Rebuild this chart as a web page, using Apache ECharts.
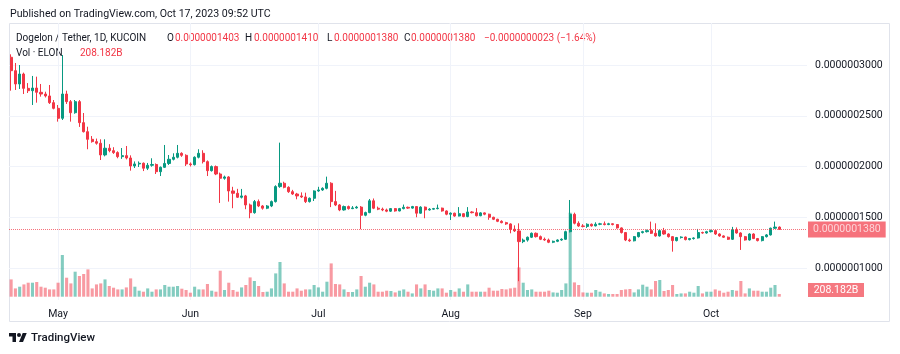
<!DOCTYPE html>
<html>
<head>
<meta charset="utf-8">
<script src="https://cdn.jsdelivr.net/npm/echarts@6/dist/echarts.min.js"></script>
<style>
html, body { margin: 0; padding: 0; background: #fff; }
#main { width: 900px; height: 354px; }
</style>
</head>
<body>
<div id="main"></div>
<script>
// prices in units of 1e-10 USDT, one candle per day starting 2023-04-20
var startDate = '2023-04-20';
var opens = [3076,2944,2813,2911,2770,2747,2773,2731,2714,2695,
	2629,2573,2475,2714,2639,2530,2639,2432,2343,2268,
	2245,2229,2114,2180,2156,2137,2097,2107,2084,2005,
	2025,2032,1983,2012,2020,1949,1992,2030,2071,2091,
	2130,2110,2025,2018,2091,2130,2048,1959,1999,1926,
	1884,1897,1759,1736,1697,1710,1621,1545,1654,1611,
	1589,1611,1654,1802,1835,1795,1752,1729,1710,1700,
	1654,1687,1759,1769,1785,1835,1654,1621,1572,1605,
	1585,1592,1600,1520,1546,1662,1589,1580,1572,1560,
	1585,1562,1585,1598,1590,1605,1540,1600,1572,1580,
	1585,1590,1562,1530,1540,1512,1535,1507,1552,1545,
	1515,1543,1530,1500,1480,1460,1447,1434,1382,1365,
	1260,1275,1303,1342,1309,1283,1276,1254,1263,1276,
	1283,1358,1529,1441,1414,1410,1431,1415,1431,1435,
	1428,1436,1428,1395,1349,1276,1268,1309,1349,1358,
	1368,1342,1316,1368,1335,1309,1270,1300,1305,1280,
	1290,1296,1349,1345,1358,1368,1335,1316,1303,1283,
	1375,1345,1309,1276,1335,1290,1270,1309,1326,1392,
	1403];
var closes = [2944,2813,2911,2770,2747,2773,2731,2714,2695,2629,
	2573,2475,2714,2639,2530,2639,2432,2343,2268,2245,
	2229,2114,2180,2156,2137,2097,2107,2084,2005,2025,
	2032,1983,2012,2020,1949,1992,2030,2071,2091,2130,
	2110,2025,2018,2091,2130,2048,1959,1999,1926,1884,
	1897,1759,1736,1697,1710,1621,1545,1654,1611,1589,
	1611,1654,1802,1835,1795,1752,1729,1710,1700,1654,
	1687,1759,1769,1785,1835,1654,1621,1572,1605,1585,
	1592,1600,1520,1546,1662,1589,1580,1572,1560,1585,
	1562,1585,1598,1590,1605,1540,1600,1572,1580,1585,
	1590,1562,1530,1540,1512,1535,1507,1552,1545,1515,
	1543,1530,1500,1480,1460,1447,1434,1382,1365,1260,
	1275,1303,1342,1309,1283,1276,1254,1263,1276,1283,
	1358,1529,1441,1414,1410,1431,1415,1431,1435,1428,
	1436,1428,1395,1349,1276,1268,1309,1349,1358,1368,
	1342,1316,1368,1335,1309,1270,1300,1305,1280,1290,
	1296,1349,1345,1358,1368,1335,1316,1303,1283,1375,
	1345,1309,1276,1335,1290,1270,1309,1326,1392,1403,
	1380];
var highs = [3105,3020,3000,2925,2822,2892,2885,2813,2737,2803,
	2655,2606,3098,2747,2655,2655,2655,2527,2392,2300,
	2275,2268,2268,2220,2190,2150,2182,2202,2110,2050,
	2050,2040,2035,2081,2030,2000,2212,2113,2130,2212,
	2140,2120,2040,2100,2170,2160,2060,2010,2010,1940,
	1910,1905,1800,1780,1779,1720,1635,1670,1675,1620,
	1620,1665,1815,2235,1850,1805,1770,1740,1745,1742,
	1695,1765,1800,1795,1900,1845,1760,1630,1615,1615,
	1610,1612,1610,1555,1680,1685,1605,1595,1585,1590,
	1590,1592,1625,1605,1612,1610,1608,1606,1590,1592,
	1625,1595,1568,1548,1545,1600,1540,1600,1560,1590,
	1550,1548,1535,1505,1485,1470,1455,1440,1420,1440,
	1290,1310,1350,1350,1320,1300,1290,1270,1282,1292,
	1368,1670,1545,1460,1432,1440,1438,1450,1445,1458,
	1445,1440,1432,1400,1355,1290,1315,1355,1366,1378,
	1457,1440,1378,1395,1342,1315,1306,1312,1310,1296,
	1302,1385,1358,1366,1378,1375,1342,1322,1310,1405,
	1400,1352,1316,1342,1342,1296,1315,1335,1398,1457,
	1410];
var lows = [2747,2754,2764,2714,2724,2606,2629,2688,2680,2616,
	2563,2442,2458,2616,2442,2520,2390,2335,2170,2235,
	2215,2064,2100,2140,2124,2081,2075,2070,1959,1985,
	1995,1955,1965,1998,1926,1906,1985,2015,2060,2080,
	2095,2005,2000,2010,2080,2030,1906,1950,1915,1641,
	1870,1654,1589,1690,1685,1579,1490,1535,1600,1575,
	1580,1600,1645,1790,1785,1740,1720,1677,1690,1640,
	1645,1660,1750,1760,1775,1600,1610,1560,1565,1575,
	1580,1585,1382,1510,1540,1580,1570,1560,1550,1552,
	1555,1558,1578,1582,1584,1500,1535,1490,1565,1575,
	1578,1555,1520,1473,1505,1508,1500,1500,1538,1508,
	1510,1520,1475,1472,1452,1440,1425,1342,1355,870,
	1245,1260,1295,1300,1275,1268,1245,1245,1255,1268,
	1278,1350,1430,1405,1400,1395,1408,1410,1422,1420,
	1422,1420,1388,1340,1265,1258,1262,1300,1340,1350,
	1335,1308,1310,1328,1300,1161,1262,1290,1272,1272,
	1280,1290,1338,1338,1350,1326,1308,1296,1276,1276,
	1338,1178,1270,1270,1285,1262,1262,1300,1320,1385,
	1380];
// volume in billions of ELON
var volumes = [1332,639,770,947,1078,1078,1132,770,693,562,
	562,1078,3211,1463,1024,1925,1594,1748,2102,639,
	947,1024,1332,824,693,562,562,716,1409,770,
	462,385,639,385,562,562,901,770,770,824,
	616,516,308,770,562,562,978,462,385,2002,
	516,1078,516,385,716,901,1486,1209,824,362,
	385,639,1794,2672,1024,385,385,639,462,562,
	562,901,716,385,1155,2564,978,947,562,362,
	362,562,1594,770,1078,947,385,385,462,439,
	331,462,562,385,254,947,639,947,516,462,
	639,639,308,516,385,639,385,947,385,385,
	385,385,693,462,462,593,562,639,693,2256,
	1078,516,562,385,385,385,462,331,308,516,
	1024,6468,1101,901,331,308,308,516,385,254,
	208,208,208,516,562,593,331,562,924,770,
	562,1209,1286,439,516,901,208,254,254,385,
	308,824,254,385,385,562,462,308,385,516,
	462,1209,254,639,462,462,385,385,693,901,
	208.182];
var monthNames = ['Jan','Feb','Mar','Apr','May','Jun','Jul','Aug','Sep','Oct','Nov','Dec'];
var emptySlots = 6;

var UP = '#089981', DOWN = '#f23645';
var UP_VOL = 'rgba(8,153,129,0.5)', DOWN_VOL = 'rgba(242,54,69,0.5)';
var INK = '#131722';
var FONT = 'Roboto, "Noto Sans", sans-serif';

function fmt(v) { return (v / 1e10).toFixed(10); }

var days = [];
var d = new Date(startDate + 'T00:00:00Z');
for (var i = 0; i < closes.length; i++) {
	days.push(d.toISOString().slice(0, 10));
	d.setUTCDate(d.getUTCDate() + 1);
}
for (var k = 0; k < emptySlots; k++) days.push('');

var candles = [], vols = [];
for (var j = 0; j < closes.length; j++) {
	candles.push([opens[j], closes[j], lows[j], highs[j]]);
	vols.push({ value: volumes[j], itemStyle: { color: closes[j] >= opens[j] ? UP_VOL : DOWN_VOL } });
}

var n = closes.length - 1;
var chg = closes[n] - closes[n - 1];
var chgText = fmt(chg).replace('-', '\u2212') + ' (' + (chg / closes[n - 1] * 100).toFixed(2).replace('-', '\u2212') + '%)';
var volText = volumes[n].toFixed(3) + 'B';

function isMonthStart(idx, val) { return !!val && val.slice(8) === '01'; }

function txt(x, y, s, color, size, weight) {
	return { type: 'text', x: x, y: y, silent: true,
		style: { text: s, fill: color || INK, font: (weight || 'normal') + ' ' + (size || 10) + 'px ' + FONT, verticalAlign: 'middle' } };
}

var myChart = echarts.init(document.getElementById('main'));

option = {
	animation: false,
	backgroundColor: '#ffffff',
	textStyle: { fontFamily: FONT },
	grid: [
		{ left: 9, right: 93, top: 23, bottom: 54 },
		{ left: 9, right: 93, top: 65, height: 203 }
	],
	xAxis: [{
		type: 'category', gridIndex: 0, data: days, boundaryGap: true,
		axisLine: { show: false }, axisTick: { show: false },
		axisLabel: {
			interval: isMonthStart, color: INK, fontSize: 10.5, margin: 9,
			formatter: function (v) { return v ? monthNames[+v.slice(5, 7) - 1] : ''; }
		},
		splitLine: { show: true, interval: isMonthStart, alignWithLabel: true, lineStyle: { color: '#f0f3fa' } }
	}, {
		type: 'category', gridIndex: 1, data: days, show: false
	}],
	yAxis: [{
		type: 'value', gridIndex: 0, min: -254, max: 21075, show: false
	}, {
		type: 'value', gridIndex: 1, position: 'right', min: 1000, max: 3000, interval: 500,
		axisLine: { show: false }, axisTick: { show: false },
		axisLabel: { formatter: fmt, color: INK, fontSize: 10.5, margin: 8 },
		splitLine: { lineStyle: { color: '#f0f3fa' } }
	}],
	series: [{
		type: 'bar', xAxisIndex: 0, yAxisIndex: 0, data: vols, barWidth: '72%', z: 1, silent: true
	}, {
		type: 'candlestick', xAxisIndex: 1, yAxisIndex: 1, data: candles, clip: false, barWidth: 2.6, z: 3,
		itemStyle: { color: UP, color0: DOWN, borderColor: UP, borderColor0: DOWN, borderWidth: 1 },
		markLine: {
			symbol: ['none', 'none'], silent: true, animation: false,
			data: [{ yAxis: closes[n] }],
			lineStyle: { color: DOWN, type: 'dotted', width: 1, opacity: 0.7 },
			label: {
				position: 'end', distance: 1, formatter: function (p) { return fmt(p.value); },
				color: '#fff', backgroundColor: DOWN, padding: [3, 5, 2, 5], fontSize: 10.5, fontFamily: FONT
			}
		}
	}],
	graphic: [
		{ type: 'rect', silent: true, shape: { x: 9.5, y: 23.5, width: 880, height: 298 },
			style: { fill: 'none', stroke: '#e0e3eb', lineWidth: 1 } },
		txt(10, 14, 'Published on TradingView.com, Oct 17, 2023 09:52 UTC', INK, 10.6),
		txt(16, 38, 'Dogelon / Tether, 1D, KUCOIN'),
		txt(167, 38, 'O'), txt(175, 38, fmt(opens[n]), DOWN),
		txt(245, 38, 'H'), txt(254, 38, fmt(highs[n]), DOWN),
		txt(327, 38, 'L'), txt(334, 38, fmt(lows[n]), DOWN),
		txt(404, 38, 'C'), txt(411, 38, fmt(closes[n]), DOWN),
		txt(484, 38, chgText, DOWN),
		txt(16, 53, 'Vol \u00b7 ELON'),
		txt(80, 53, volText, DOWN),
		{ type: 'rect', silent: true, shape: { x: 808, y: 283, width: 56, height: 14 }, style: { fill: '#f57880' } },
		{ type: 'text', silent: true, x: 836, y: 290.5,
			style: { text: volText, fill: '#fff', font: '10.5px ' + FONT, align: 'center', verticalAlign: 'middle' } },
		{ type: 'group', x: 9, y: 331, scaleX: 0.5, scaleY: 0.5, silent: true, children: [
			{ type: 'polygon', shape: { points: [[0, 4], [14, 4], [14, 22], [7, 22], [7, 11], [0, 11]] }, style: { fill: INK } },
			{ type: 'circle', shape: { cx: 20, cy: 8, r: 4 }, style: { fill: INK } },
			{ type: 'polygon', shape: { points: [[20, 22], [27.5, 4], [35.5, 4], [28, 22]] }, style: { fill: INK } }
		] },
		txt(31, 338, 'TradingView', INK, 11.5, 500)
	]
};

myChart.setOption(option);
</script>
</body>
</html>
